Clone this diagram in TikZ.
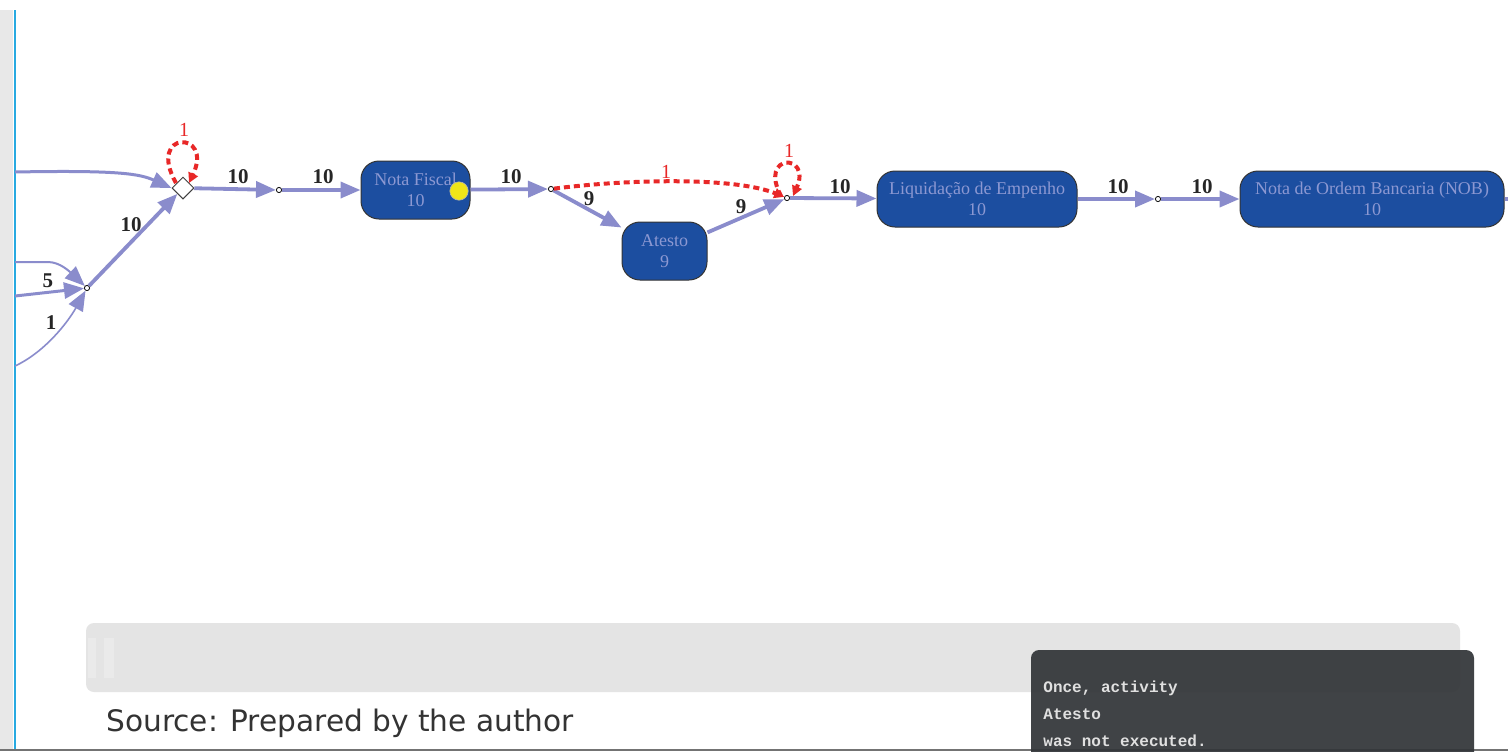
\documentclass[tikz,border=0pt]{standalone}
\usepackage{fontspec}
\setmainfont{Liberation Serif}
\newfontfamily\srcfont{DejaVu Sans}
\newfontfamily\tipfont{Liberation Mono}
\usetikzlibrary{arrows.meta,shapes.geometric}
\definecolor{edgec}{RGB}{138,140,204}
\definecolor{boxfill}{RGB}{28,78,160}
\definecolor{boxtext}{RGB}{140,152,210}
\definecolor{redc}{RGB}{232,40,40}
\definecolor{cyanline}{RGB}{40,170,225}
\definecolor{barc}{RGB}{228,228,228}
\definecolor{tipc}{RGB}{50,53,56}
\definecolor{stripc}{RGB}{232,232,232}
\tikzset{
  act/.style={draw=black!80, line width=0.5pt, fill=boxfill, rounded corners=9pt,
    text=boxtext, font=\fontsize{9}{10.5}\selectfont, align=center, inner sep=0pt},
  dotn/.style={circle, draw=black, fill=white, line width=0.4pt, minimum size=2.6pt, inner sep=0pt},
  gate/.style={diamond, draw=black!75, fill=white, line width=0.5pt, minimum size=11pt, inner sep=0pt},
  flow/.style={draw=edgec, line width=1.9pt, -{Triangle[length=10pt,width=8pt]}},
  thinflow/.style={draw=edgec, line width=1pt, -{Triangle[length=10pt,width=8pt]}},
  redflow/.style={draw=redc, line width=2pt, dash pattern=on 3pt off 2pt, -{Triangle[length=5pt,width=5pt]}},
  elab/.style={font=\fontsize{10.5}{12}\selectfont\bfseries, text=black!85, inner sep=0pt},
  rlab/.style={font=\fontsize{10}{12}\selectfont, text=redc, inner sep=0pt},
}
\begin{document}
\begin{tikzpicture}[x=0.5pt,y=-0.5pt]
\useasboundingbox (0,0) rectangle (1508,751);
\fill[white] (0,0) rectangle (1508,751);
% left strip and blue line
\fill[stripc] (0,10) rectangle (13,751);
\draw[cyanline, line width=1.1pt] (15,10) -- (15,751);
% bottom line
\draw[black!55, line width=1pt] (0,749.5) -- (1508,749.5);
% gray bar
\fill[barc, rounded corners=4pt] (86,623) rectangle (1460,692);
\fill[white, opacity=0.25] (88,638) rectangle (96,678);
\fill[white, opacity=0.25] (104,638) rectangle (114,678);
% source text
\node[anchor=base west, font=\srcfont\fontsize{14.8}{17}\selectfont, text=black!80, inner sep=0pt] (src) at (106,731) {Source: Prepared by the author};

% nodes
\node[gate] (g1) at (183,188) {};
\node[dotn] (d0) at (87,288) {};
\node[dotn] (d1) at (279,190) {};
\node[act, minimum width=54.5pt, minimum height=29pt] (nf) at (415.5,190) {Nota Fiscal\\10};
\fill[yellow!85!olive!90!white, draw=black!30, line width=0.3pt] (459,191) circle (4.6pt);
\node[dotn] (d2) at (551,189) {};
\node[act, minimum width=42.5pt, minimum height=29pt] (at) at (664.5,251) {Atesto\\9};
\node[dotn] (d3) at (787,198) {};
\node[act, minimum width=100pt, minimum height=28pt] (lq) at (977,199) {Liquidação de Empenho\\10};
\node[dotn] (d4) at (1158,199) {};
\node[act, minimum width=132pt, minimum height=28pt] (nob) at (1372,199) {Nota de Ordem Bancaria (NOB)\\10};

% incoming from the left
\coordinate (i1) at (15,172);
\coordinate (i2) at (15,262);
\coordinate (i3) at (15,296);
\coordinate (i4) at (15,366);
\draw[flow, line width=1.5pt] (i1) .. controls (120,170) and (140,174) .. (g1.west);
\draw[thinflow] (i2) -- (48,262) .. controls (60,262) and (70,272) .. (d0);
\draw[flow, line width=1.5pt] (i3) -- (d0);
\draw[thinflow, line width=0.8pt] (i4) .. controls (45,352) and (68,322) .. (d0);
\node[elab] (l5) at (48,281) {5};
\node[elab] (l1a) at (51,323) {1};

% main flow
\draw[flow] (d0) -- (g1);
\node[elab] (l10a) at (131,225) {10};
\draw[flow] (g1) -- (d1);
\node[elab] (l10b) at (238,177) {10};
\draw[flow] (d1) -- (nf);
\node[elab] (l10c) at (323,177) {10};
\draw[flow] (nf) -- (d2);
\node[elab] (l10d) at (511,177) {10};
\draw[flow] (d2) -- (at);
\node[elab] (l9a) at (589,199) {9};
\draw[flow] (at) -- (d3);
\node[elab] (l9b) at (741,207) {9};
\draw[flow] (d3) -- (lq);
\node[elab] (l10e) at (840,187) {10};
\draw[flow] (lq) -- (d4);
\node[elab] (l10f) at (1118,187) {10};
\draw[flow] (d4) -- (nob);
\node[elab] (l10g) at (1202,187) {10};
\coordinate (out) at (1512,199);
\draw[draw=edgec, line width=1.9pt] (nob.east) -- (out);

% red deviations
\draw[redflow] (176,183) .. controls (146,130) and (214,130) .. (189,183);
\node[rlab] (r1) at (184,130) {1};
\draw[redflow] (d2) .. controls (630,179) and (735,177) .. (d3);
\node[rlab] (r2) at (666,172) {1};
\draw[redflow] (781,196) .. controls (758,153) and (812,153) .. (793,196);
\node[rlab] (r3) at (789,151) {1};

% tooltip
\fill[tipc, opacity=0.93, rounded corners=4pt] (1031,760) -- (1031,650) -- (1474,650) -- (1474,760) -- cycle;
\node[anchor=base west, font=\tipfont\bfseries\fontsize{8}{9}\selectfont, text=white!88!black, inner sep=0pt] (t1) at (1043,692) {Once, activity};
\node[anchor=base west, font=\tipfont\bfseries\fontsize{8}{9}\selectfont, text=white!88!black, inner sep=0pt] (t2) at (1043,719) {Atesto};
\node[anchor=base west, font=\tipfont\bfseries\fontsize{8}{9}\selectfont, text=white!88!black, inner sep=0pt] (t3) at (1043,746) {was not executed.};
\end{tikzpicture}
\end{document}
